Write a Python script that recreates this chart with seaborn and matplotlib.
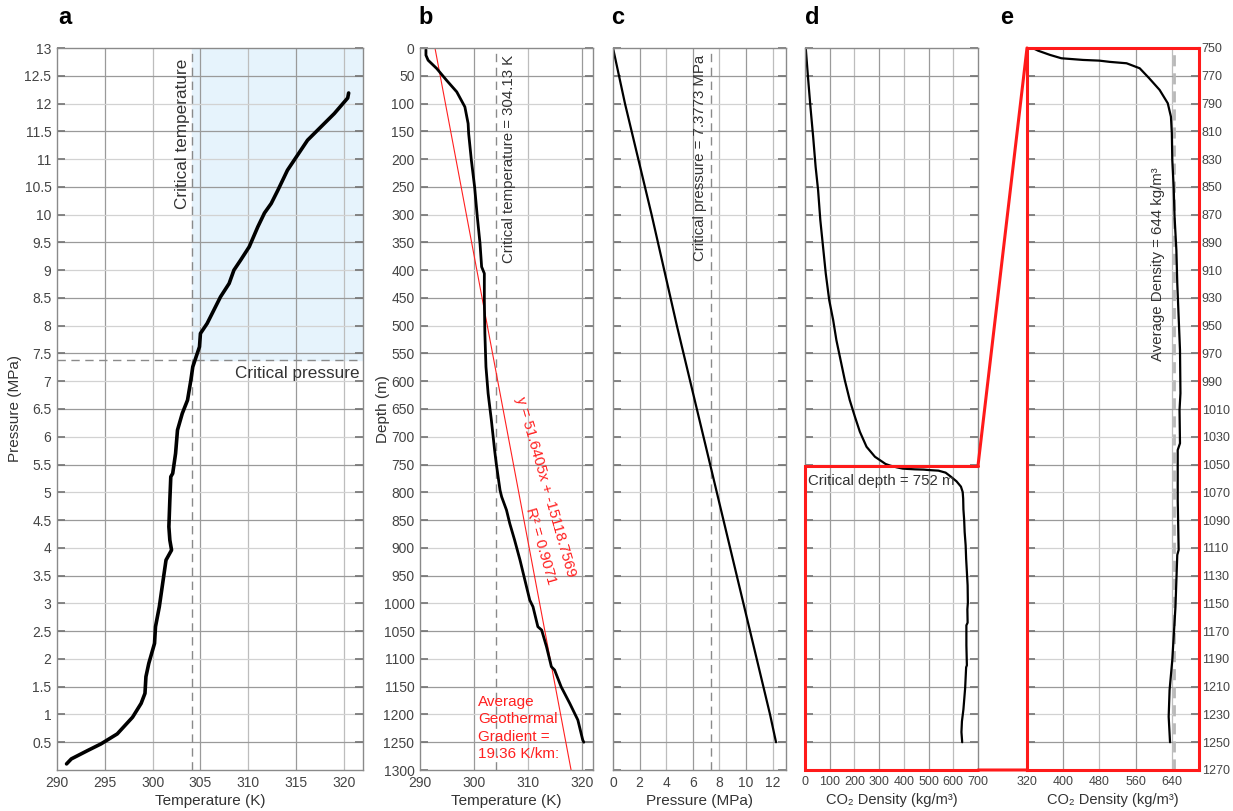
import numpy as np
import pandas as pd
import matplotlib
matplotlib.use('Agg')
import matplotlib.pyplot as plt
import seaborn as sns
from matplotlib.patches import ConnectionPatch

# ---------------- data ----------------
# panel a: temperature (K) vs pressure (MPa)
a_temp = [291.0, 291.5, 293.2, 294.6, 296.3, 297.9, 298.8, 299.2, 299.3, 299.6, 300.2, 300.3,
          300.7, 301.0, 301.2, 301.4, 301.98, 301.8, 301.7, 301.8, 301.9, 302.1, 302.4, 302.6,
          303.1, 303.65, 304.0, 304.2, 304.9, 305.0, 305.7, 306.4, 307.1, 308.0, 308.5, 309.2,
          310.1, 311.0, 311.7, 312.4, 313.1, 314.1, 314.8, 316.2, 317.6, 319.0, 320.4, 320.5]
a_pres = [0.11, 0.2, 0.35, 0.47, 0.65, 0.95, 1.2, 1.38, 1.68, 1.92, 2.28, 2.58,
          2.94, 3.30, 3.54, 3.78, 3.96, 4.14, 4.38, 4.86, 5.28, 5.34, 5.70, 6.12,
          6.42, 6.66, 7.02, 7.26, 7.62, 7.86, 8.04, 8.28, 8.52, 8.76, 9.0, 9.18,
          9.42, 9.78, 10.03, 10.2, 10.44, 10.80, 10.98, 11.34, 11.58, 11.82, 12.1, 12.19]

# panel b: temperature (K) vs depth (m)
b_temp = [291.1, 291.1, 291.5, 293.1, 294.9, 296.8, 298.3, 298.9, 299.0, 299.5, 300.1, 300.6,
          301.1, 301.4, 301.9, 301.9, 302.0, 302.2, 302.6, 303.2, 303.8, 304.1, 304.8, 305.1,
          306.0, 306.6, 307.5, 308.5, 309.7, 310.3, 310.9, 311.8, 312.5, 313.4, 314.3, 314.9,
          316.1, 317.7, 319.2, 319.8, 320.1, 320.3]
b_depth = [3, 13, 22, 37, 58, 79, 106, 136, 154, 202, 250, 304,
           352, 394, 406, 454, 514, 574, 622, 670, 724, 748, 796, 808,
           832, 856, 886, 922, 970, 994, 1006, 1042, 1048, 1078, 1114, 1120,
           1150, 1180, 1210, 1234, 1246, 1250]
fit_slope = 51.6405
fit_intercept = -15118.7569
fit_r2 = 0.9071
geo_gradient = 19.36

# panel c: pressure (MPa) vs depth (m)
c_depth = [0, 100, 200, 300, 400, 500, 600, 700, 750, 800, 900, 1000, 1100, 1200, 1250]
c_pres = [0, 0.9, 1.9, 2.9, 3.85, 4.8, 5.8, 6.8, 7.3, 7.8, 8.8, 9.8, 10.8, 11.8, 12.25]

# panels d/e: CO2 density (kg/m3) vs depth (m)
dens_depth = [0, 52, 106, 160, 214, 256, 310, 358, 406, 454, 490, 526, 562, 598, 634, 664,
              691, 718, 736, 749, 752, 755, 757.4, 758.6, 759.1, 760, 761, 764.6, 771.8, 780.2,
              789.8, 799.5, 811.4, 830.7, 849.9, 871.5, 895.5, 919.5, 943.5, 967.5, 998.7,
              1010.7, 1034.7, 1039.5, 1075.5, 1111.5, 1115.1, 1152.4, 1190.8, 1212.4, 1231.6, 1250]
dens = [3, 12, 22, 33, 43, 53, 62, 73, 84, 98, 114, 127, 144, 161, 181, 202,
        222, 249, 283, 326, 345, 371, 396, 444, 480, 503, 540, 569, 590, 613,
        631, 638, 640, 641, 644, 646, 650, 652, 655, 658, 659,
        657, 658, 653, 653, 655, 652, 648, 641, 635, 633, 636]

crit_temp = 304.13
crit_pres = 7.3773
crit_depth = 752
avg_density = 644

# ---------------- figure ----------------
sns.set_theme(style='white')
plt.rcParams['font.family'] = ['Liberation Sans', 'DejaVu Sans']

W, H = 1233, 811
fig = plt.figure(figsize=(W / 100, H / 100), dpi=100)


def add_ax(l, r, t=48, b=770):
    return fig.add_axes([l / W, (H - b) / H, (r - l) / W, (b - t) / H])


ax_a = add_ax(57, 363)
ax_b = add_ax(420, 593)
ax_c = add_ax(613, 786)
ax_d = add_ax(805, 978)
ax_e = add_ax(1027, 1199)

DARK = '#9a9a9a'
LIGHT = '#d2d2d2'
TXT = '#333333'
LAB_FS = 11
ANN_FS = 10.8


def style(ax, xgrid, ygrid, fs=10, ystart_dark=True):
    for i, x in enumerate(xgrid):
        ax.axvline(x, color=DARK if i % 2 == 0 else '#bdbdbd', lw=0.9, zorder=0)
    for i, y in enumerate(ygrid):
        dark = (i % 2 == 0) == ystart_dark
        ax.axhline(y, color=DARK if dark else LIGHT, lw=0.9, zorder=0)
    for s in ax.spines.values():
        s.set_color('#8a8a8a')
        s.set_linewidth(1.0)
    ax.tick_params(axis='x', labelsize=fs, labelcolor='#444444', length=0, pad=4)
    ax.tick_params(axis='y', labelsize=fs, labelcolor='#444444', direction='in',
                   length=6, color='#777777', left=True, right=True, pad=4)


# ---- panel a ----
ax_a.set_xlim(290, 322)
ax_a.set_ylim(0, 13)
ax_a.fill_between([crit_temp, 322], crit_pres, 13, color='#e6f3fc', zorder=0)
style(ax_a, np.arange(295, 321, 5), np.arange(0.5, 13, 0.5))
yt = np.arange(0.5, 13.01, 0.5)
ax_a.set_yticks(yt)
ax_a.set_yticklabels([f'{v:g}' for v in yt])
ax_a.set_xticks(np.arange(290, 321, 5))
ax_a.axvline(crit_temp, color='#8a8a8a', ls=(0, (6, 4)), lw=1.0, zorder=1)
ax_a.axhline(crit_pres, color='#8a8a8a', ls=(0, (6, 4)), lw=1.0, zorder=1, clip_on=False)
sns.lineplot(x=a_temp, y=a_pres, sort=False, estimator=None, color='black', lw=2.6, ax=ax_a)
ax_a.text(crit_temp - 0.25, 12.8, 'Critical temperature', rotation=90, ha='right', va='top',
          fontsize=12.3, color=TXT)
ax_a.text(321.6, crit_pres - 0.1, 'Critical pressure', ha='right', va='top', fontsize=12.3, color=TXT)
ax_a.set_xlabel('Temperature (K)', fontsize=LAB_FS, color=TXT, labelpad=3)
ax_a.set_ylabel('Pressure (MPa)', fontsize=LAB_FS, color=TXT, labelpad=2)

# ---- panel b ----
depth_ticks = np.arange(0, 1301, 50)
ax_b.set_xlim(290, 322)
ax_b.set_ylim(1300, 0)
style(ax_b, np.arange(300, 321, 10), depth_ticks[1:-1])
ax_b.set_yticks(depth_ticks)
ax_b.set_xticks(np.arange(290, 321, 10))
ax_b.axvline(crit_temp, color='#8a8a8a', ls=(0, (6, 4)), lw=1.0, zorder=1)
fit_depth = np.array([0, 1300])
fit_temp = (fit_depth - fit_intercept) / fit_slope
sns.lineplot(x=fit_temp, y=fit_depth, sort=False, estimator=None, color='#ff2020', lw=0.8, ax=ax_b)
sns.lineplot(x=b_temp, y=b_depth, sort=False, estimator=None, color='black', lw=2.0, ax=ax_b)
ax_b.text(crit_temp + 1.0, 12, f'Critical temperature = {crit_temp} K', rotation=90, ha='left',
          va='top', fontsize=ANN_FS, color=TXT)
ax_b.text(313.2, 790, f'y = {fit_slope}x + {fit_intercept}', rotation=-74, rotation_mode='anchor',
          ha='center', va='center', fontsize=ANN_FS, color='#ff2020')
ax_b.text(312.3, 897, f'R² = {fit_r2}', rotation=-74, rotation_mode='anchor',
          ha='center', va='center', fontsize=ANN_FS, color='#ff2020')
ax_b.text(300.7, 1165, f'Average\nGeothermal\nGradient =\n{geo_gradient} K/km:', ha='left', va='top',
          fontsize=11, color='#ff2020', linespacing=1.3)
ax_b.set_xlabel('Temperature (K)', fontsize=LAB_FS, color=TXT, labelpad=3)
ax_b.set_ylabel('Depth (m)', fontsize=LAB_FS, color=TXT, labelpad=-5)

# ---- panel c ----
ax_c.set_xlim(0, 13)
ax_c.set_ylim(1300, 0)
style(ax_c, np.arange(2, 13, 2), depth_ticks[1:-1])
ax_c.set_yticks(depth_ticks)
ax_c.set_yticklabels([])
ax_c.set_xticks(np.arange(0, 13, 2))
ax_c.axvline(crit_pres, color='#8a8a8a', ls=(0, (6, 4)), lw=1.0, zorder=1)
sns.lineplot(x=c_pres, y=c_depth, sort=False, estimator=None, color='black', lw=1.6, ax=ax_c)
ax_c.text(crit_pres - 0.35, 12, f'Critical pressure = {crit_pres} MPa', rotation=90, ha='right',
          va='top', fontsize=ANN_FS, color=TXT)
ax_c.set_xlabel('Pressure (MPa)', fontsize=LAB_FS, color=TXT, labelpad=3)
ax_c.set_ylabel('')

# ---- panel d ----
ax_d.set_xlim(0, 700)
ax_d.set_ylim(1300, 0)
style(ax_d, np.arange(100, 700, 100), depth_ticks[1:-1], fs=9)
ax_d.set_yticks(depth_ticks)
ax_d.set_yticklabels([])
ax_d.set_xticks(np.arange(0, 701, 100))
sns.lineplot(x=dens, y=dens_depth, sort=False, estimator=None, color='black', lw=1.6, ax=ax_d)
ax_d.plot([700, 0, 0, 700], [crit_depth, crit_depth, 1300, 1300], color='#ff1a1a', lw=2.2,
          clip_on=False, zorder=5, solid_joinstyle='miter')
ax_d.text(12, 780, f'Critical depth = {crit_depth} m', ha='left', va='center', fontsize=ANN_FS, color=TXT)
ax_d.set_xlabel('CO₂ Density (kg/m³)', fontsize=10.5, color=TXT, labelpad=4)
ax_d.set_ylabel('')

# ---- panel e ----
e_ticks = np.arange(750, 1271, 20)
ax_e.set_xlim(320, 700)
ax_e.set_ylim(1270, 750)
style(ax_e, np.arange(400, 700, 80), e_ticks[1:-1], fs=9)
ax_e.set_yticks(e_ticks)
ax_e.yaxis.tick_right()
ax_e.tick_params(axis='y', left=True, right=True, labelleft=False, labelright=True,
                 labelsize=9, pad=2)
ax_e.set_xticks(np.arange(320, 641, 80))
for s in ax_e.spines.values():
    s.set_color('#ff1a1a')
    s.set_linewidth(2.2)
ax_e.axvline(avg_density, color='#b8b8b8', ls=(0, (4, 2.5)), lw=2.0, zorder=1)
sns.lineplot(x=dens, y=dens_depth, sort=False, estimator=None, color='black', lw=1.6, ax=ax_e)
ax_e.text(avg_density - 19, 836, f'Average Density = {avg_density} kg/m³', rotation=90, ha='right',
          va='top', fontsize=ANN_FS, color=TXT)
ax_e.set_xlabel('CO₂ Density (kg/m³)', fontsize=10.5, color=TXT, labelpad=4)
ax_e.set_ylabel('')

# ---- red connectors ----
for xyA, xyB in [((700, crit_depth), (320, 750)), ((700, 1300), (320, 1270))]:
    con = ConnectionPatch(xyA=xyA, coordsA=ax_d.transData, xyB=xyB, coordsB=ax_e.transData,
                          color='#ff1a1a', lw=2.2, zorder=6)
    fig.add_artist(con)

# ---- panel letters ----
for letter, xp in [('a', 58), ('b', 418), ('c', 611), ('d', 805), ('e', 1000)]:
    fig.text(xp / W, 1 - 18 / H, letter, fontsize=17, fontweight='bold', ha='left', va='center',
             color='black')

fig.savefig('out.png', dpi=100, facecolor='white')
